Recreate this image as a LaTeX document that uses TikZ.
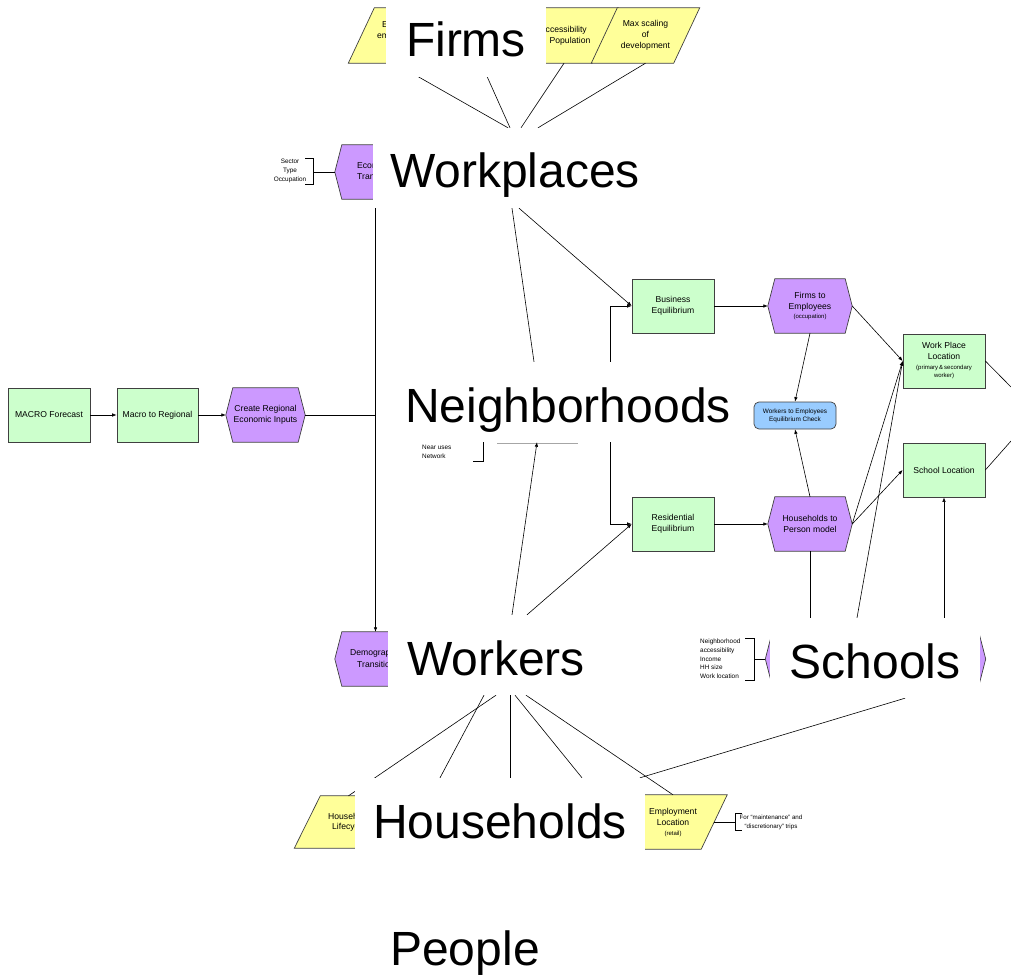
\documentclass[tikz,border=0pt]{standalone}
\usepackage{fontspec}
\setmainfont{Liberation Sans}
\usetikzlibrary{positioning, arrows.meta, backgrounds}
\pgfdeclarelayer{labels}
\pgfsetlayers{background,main,labels}

\definecolor{boxgreen}{HTML}{CCFFCC}
\definecolor{procpurple}{HTML}{CC99FF}
\definecolor{inyellow}{HTML}{FFFF99}
\definecolor{checkblue}{HTML}{99CCFF}
\newcommand\subfont{\fontsize{6}{7.5}\selectfont}
\newcommand\notefont{\fontsize{6.4}{8.7}\selectfont}

\begin{document}
\begin{tikzpicture}[x=1pt,y=-1pt,>={Latex[length=4.5pt,width=3.5pt]},
    every node/.style={font=\fontsize{8.6}{11}\selectfont,align=center,inner sep=1pt},
    box/.style={draw=black!75,fill=boxgreen,line width=0.7pt,minimum width=82pt,minimum height=54pt},
    proc/.style={minimum width=84pt,minimum height=54pt},
    input/.style={minimum width=82pt,minimum height=55pt},
    check/.style={draw=black!75,fill=checkblue,line width=0.7pt,rounded corners=5pt,
      minimum width=82pt,minimum height=27pt,font=\fontsize{6.4}{8}\selectfont},
    note/.style={font=\notefont},
    big/.style={fill=white,font=\fontsize{48}{48}\selectfont,inner xsep=20pt,inner ysep=20pt,
      text height=40pt,text depth=0pt,anchor=base},
    link/.style={line width=0.6pt}]
\useasboundingbox (0,0) rectangle (1011,976);

% big labels, on top of everything
\begin{pgfonlayer}{labels}
  \node[big] (firms) at (466,57) {Firms};
  \node[big,inner xsep=17pt] (wplaces) at (515,188) {Workplaces};
  \node[big] (nbhd) at (568,422) {Neighborhoods};
  \node[big,inner xsep=19pt] (workers) at (496,675) {Workers};
  \node[big] (schools) at (875,678) {Schools};
  \node[big,inner xsep=18.5pt] (hholds) at (500,838) {Households};
  \node[big] (people) at (465,965) {People};
\end{pgfonlayer}

% flow chart
\node[box] (macro) at (49,415) {MACRO Forecast};
\node[box,minimum width=81pt] (m2r) at (157.5,415) {Macro to Regional};
\node[proc,minimum width=79pt] (cre) at (265.5,415) {Create Regional\\Economic Inputs};
\node[proc,minimum width=81pt] (econ) at (375.5,172) {};
\node[anchor=west,align=left] (econtxt) at (356,171.5) {Econ\\Tran};
\node[proc,minimum width=81pt] (demo) at (375.5,659) {};
\node[anchor=west] (demotxa) at (349,653) {Demograp};
\node[anchor=west] (demotxb) at (356,664) {Transitio};

\node[box] (bus) at (673,306) {Business\\Equilibrium};
\node[box] (res) at (673,524) {Residential\\Equilibrium};
\node[proc] (fte) at (810,306) {Firms to\\Employees\\[-2pt]{\subfont (occupation)}};
\node[proc] (htp) at (810,524) {Households to\\Person model};
\node[check] (chk) at (795,415.5) {Workers to Employees\\Equilibrium Check};
\node[box] (wpl) at (944,361) {Work Place\\Location\\[-1pt]{\subfont (primary\,\&\,secondary}\\[-3pt]{\subfont worker)}};
\node[box] (sloc) at (944,470) {School Location};
\node[proc,minimum width=220pt] (schl) at (875.5,659) {};

% inputs
\node[input] (inA) at (402.5,35.5) {};
\node[anchor=west] (inAtxa) at (381,25) {E};
\node[anchor=west] (inAtxb) at (376,36) {em};
\node[input] (inC) at (564,35.5) {};
\node[anchor=west] (inCtxa) at (544.5,30) {ccessibility};
\node (inCtxb) at (570,41) {Population};
\node[input] (inD) at (645.5,35.5) {Max scaling\\of\\development};
\node[input,minimum height=52pt] (hlc) at (348.5,822) {};
\node[anchor=west] (hlctxa) at (327,816) {Househ};
\node[anchor=west] (hlctxb) at (331,827) {Lifecyc};
\node[input,minimum height=54pt] (empl) at (673,822) {Employment\\Location\\[-1pt]{\subfont (retail)}};

\begin{scope}[on background layer]
  \foreach \n in {econ,demo,cre,fte,htp,schl}
    \draw[draw=black!75,line width=0.7pt,fill=procpurple] ([xshift=7pt]\n.north west) -- ([xshift=-7pt]\n.north east)
      -- (\n.east) -- ([xshift=-7pt]\n.south east) -- ([xshift=7pt]\n.south west) -- (\n.west) -- cycle;
  \foreach \n in {inA,inC,inD,hlc,empl}
    \draw[draw=black!75,line width=0.7pt,fill=inyellow] ([xshift=-13pt]\n.south west) -- ([xshift=13pt]\n.north west)
      -- ([xshift=13pt]\n.north east) -- ([xshift=-13pt]\n.south east) -- cycle;
\end{scope}

% notes and brackets
\node[note] (sto) at (290,171) {Sector\\Type\\Occupation};
\draw[link] (305,158) -- (313,158) -- (313,184) -- (305,184);
\draw[link] (313,172) -- (econ.west);
\node[note,anchor=west,align=left] (nuse) at (421,451.5) {Near uses\\Network};
\draw[link] (483,430) -- (483,461) -- (473,461);
\draw[gray!70,line width=0.6pt] (497,443.5) -- (578,443.5);
\node[note,anchor=west,align=left] (hhat) at (699,659) {Neighborhood\\accessibility\\Income\\HH size\\Work location};
\draw[link] (745,638) -- (754,638) -- (754,680) -- (745,680);
\draw[link] (754,659) -- (schl.west);
\node[note,font=\fontsize{6.2}{9}\selectfont] (trips) at (771,822) {For “maintenance” and\\“discretionary” trips};
\draw[link] (742,813) -- (735,813) -- (735,830) -- (742,830);
\draw[link] (empl.east) -- (735,822);

% connectors
\coordinate (jn) at (econ.south |- cre.east);
\coordinate (fB) at (481,63);
\coordinate (offA) at (1011,387);
\coordinate (offB) at (1011,441);
\draw[link,->] (macro) -- (m2r);
\draw[link,->] (m2r) -- (cre);
\draw[link] (cre.east) -- (jn);
\draw[link,->] (econ.south) -- (demo.north);

\draw[link] ([xshift=-8pt]inA.south) -- ([xshift=-7pt]wplaces.north);
\draw[link] (fB) -- ([xshift=-5pt]wplaces.north);
\draw[link] (inC.south) -- ([xshift=6pt]wplaces.north);
\draw[link] (inD.south) -- ([xshift=23pt]wplaces.north);

\draw[link] ([xshift=-3pt]wplaces.south) -- ([xshift=-34pt]nbhd.north);
\draw[link,->] ([xshift=4pt]wplaces.south) -- (bus.west);
\draw[link,->] ([xshift=42pt]nbhd.north) |- (bus.west);
\draw[link,->] ([xshift=42pt]nbhd.south) |- (res.west);
\draw[link,->] ([xshift=16pt]workers.north) -- ([xshift=-31pt]nbhd.south);
\draw[link,->] ([xshift=31pt]workers.north) -- (res.west);

\draw[link] (workers.south) -- (hlc.north);
\draw[link] ([xshift=-12pt]workers.south) -- ([xshift=-60pt]hholds.north);
\draw[link] ([xshift=14pt]workers.south) -- ([xshift=10pt]hholds.north);
\draw[link] ([xshift=19pt]workers.south) -- ([xshift=82pt]hholds.north);
\draw[link] ([xshift=30pt]workers.south) -- (empl.north);

\draw[link,->] (bus) -- (fte);
\draw[link,->] (res) -- (htp);
\draw[link,->] (fte.south) -- (chk.north);
\draw[link,->] (htp.north) -- (chk.south);
\draw[link,->] (fte.east) -- (wpl.west);
\draw[link,->] (htp.east) -- (wpl.west);
\draw[link,->] (htp.east) -- (sloc.west);
\draw[link] (htp.south) -- (htp.south |- schools.north);
\draw[link,->] ([xshift=-18pt]schools.north) -- (wpl.west);
\draw[link,->] (sloc.south |- schools.north) -- (sloc.south);
\draw[link] ([xshift=30pt]schools.south) -- ([xshift=140pt]hholds.north);
\draw[link] (wpl.east) -- (offA);
\draw[link] (sloc.east) -- (offB);
\end{tikzpicture}
\end{document}
